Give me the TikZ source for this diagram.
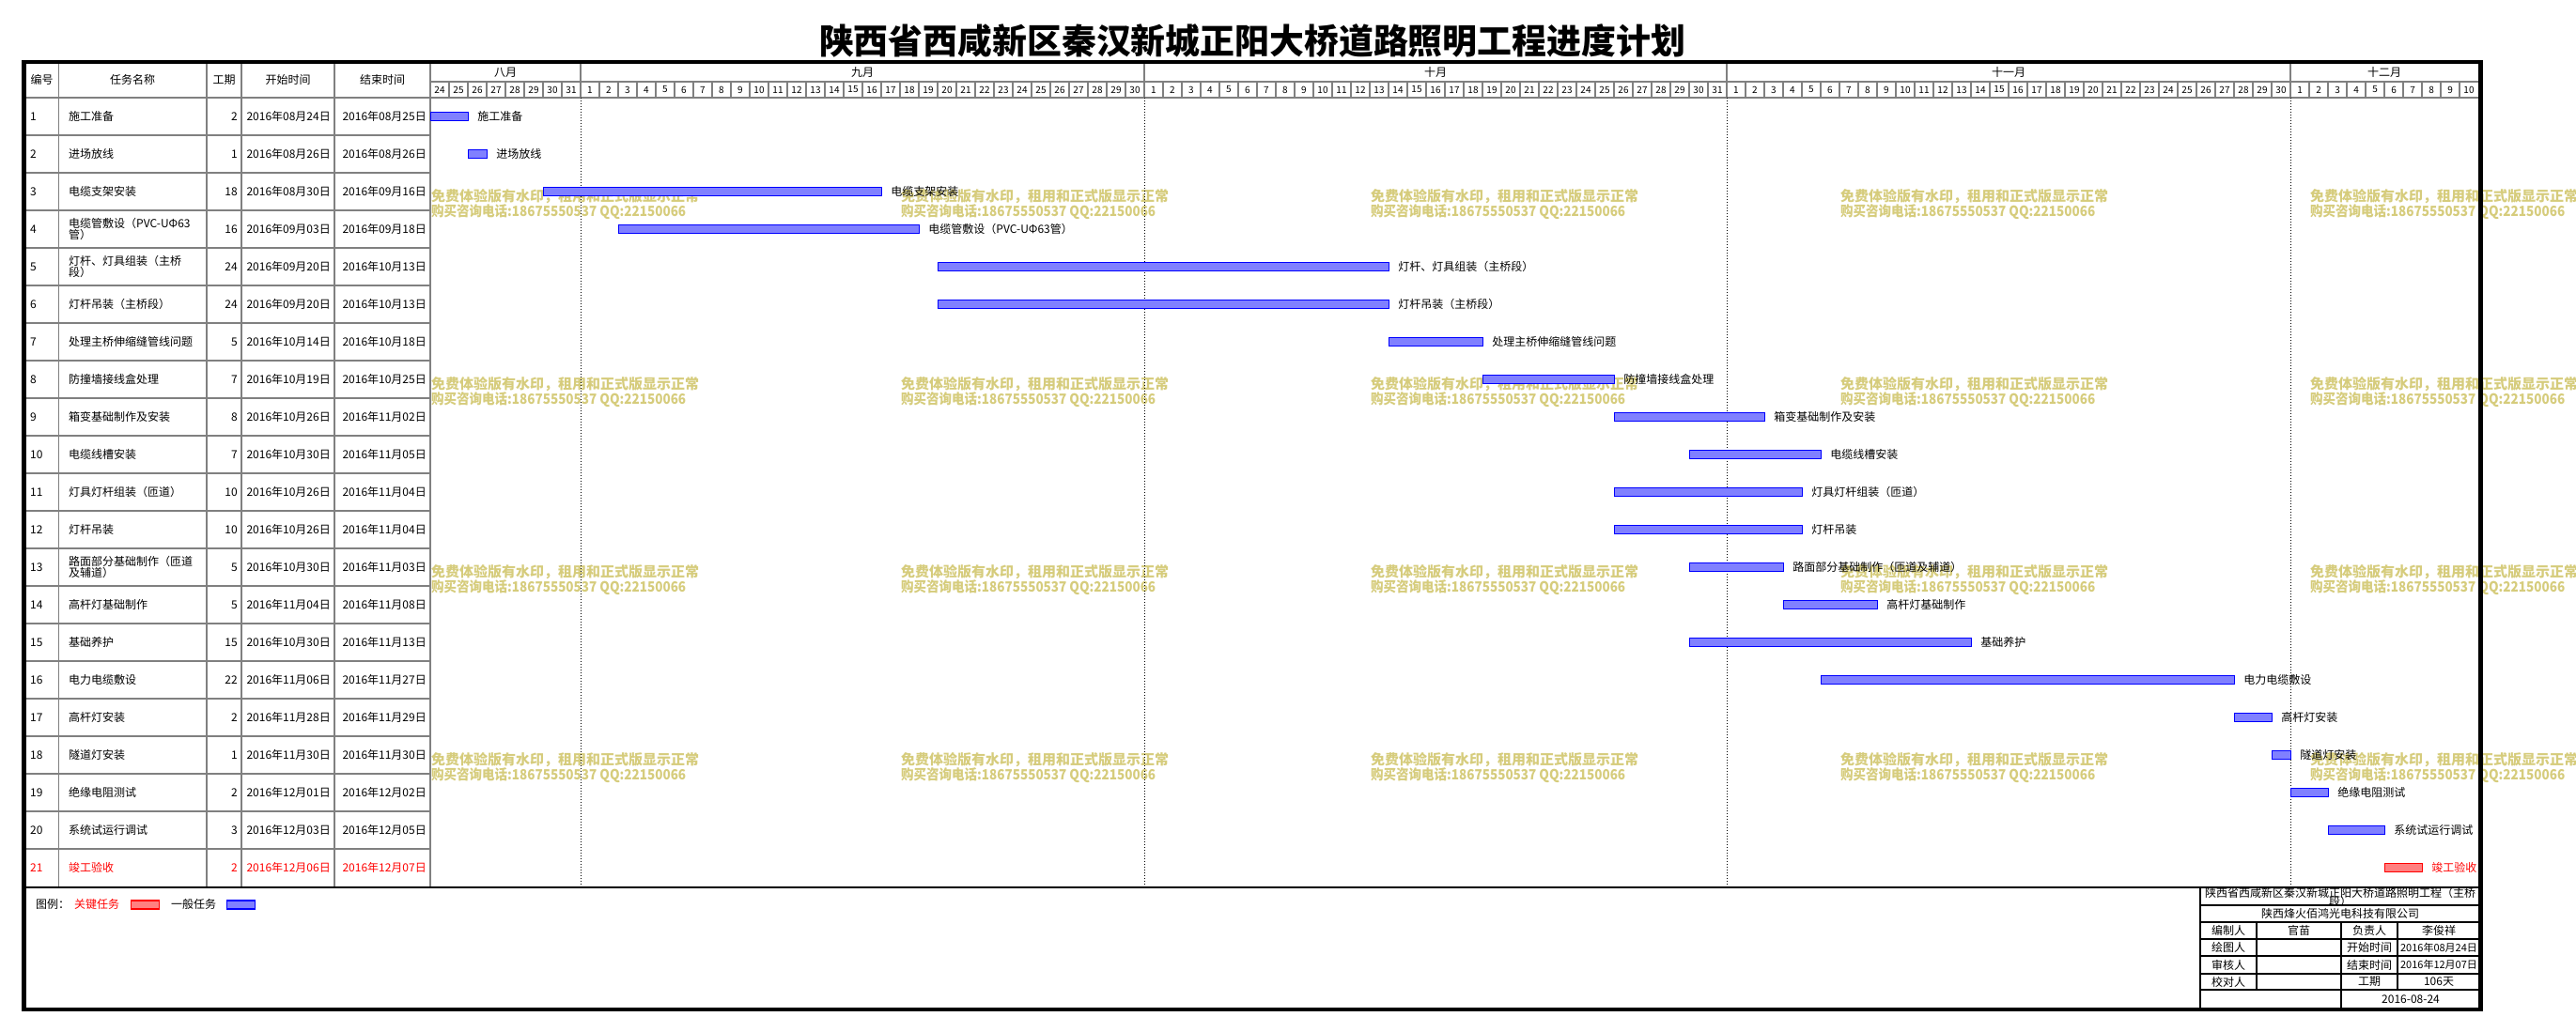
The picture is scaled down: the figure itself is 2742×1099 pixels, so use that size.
\documentclass[tikz,border=0pt]{standalone}
\usepackage{fontspec}
\setmainfont{Noto Sans CJK SC}
\definecolor{wmc}{RGB}{214,204,124}
\definecolor{gridg}{RGB}{128,128,128}
\definecolor{barblue}{RGB}{128,128,255}
\definecolor{barred}{RGB}{255,128,128}
\tikzset{
  gl/.style={draw=gridg, line width=1.2pt},
  bl/.style={draw=black, line width=1.1pt},
  mdot/.style={draw=black, line width=1pt, dash pattern=on 1pt off 2pt},
  txt/.style={inner sep=0pt, font=\fontsize{12}{12.5}\selectfont},
  smalltxt/.style={inner sep=0pt, font=\fontsize{11}{11}\selectfont},
  dayt/.style={inner sep=0pt, font=\fontsize{10}{10}\selectfont},
  wmt/.style={inner sep=0pt, anchor=west, text=wmc, font=\fontsize{15}{15}\selectfont\bfseries},
  gen/.style={text=black},
  key/.style={text=red},
  bargen/.style={draw=blue, fill=barblue, line width=1.2pt, inner sep=0pt, minimum height=9pt},
  barkey/.style={draw=red, fill=barred, line width=1.2pt, inner sep=0pt, minimum height=9pt},
}
\newcommand\tkrow[8]{%
  \pgfmathsetmacro\ry{124+(#1-1)*40}%
  \pgfmathsetmacro\bx{458+(#6)*20}%
  \pgfmathsetmacro\bw{(#3)*20}%
  \node[txt,#8,anchor=west] (no#1) at (32,\ry) {#1};
  \node[txt,#8,anchor=west,align=left] (nm#1) at (73,\ry) {#2};
  \node[txt,#8,anchor=east] (du#1) at (253,\ry) {#3};
  \node[txt,#8,anchor=east] (st#1) at (352,\ry) {#4};
  \node[txt,#8,anchor=east] (en#1) at (454,\ry) {#5};
  \node[bar#8,anchor=west,minimum width=\bw pt] (b#1) at (\bx,\ry) {};
  \node[txt,#8,anchor=west] (lb#1) at ([xshift=9pt]b#1.east) {#7};
}
\begin{document}
\begin{tikzpicture}[x=1pt,y=-1pt]
\useasboundingbox (0,0) rectangle (2742,1099);
\fill[white] (0,0) rectangle (2742,1099);

% watermarks
\foreach \i in {0,...,4}{
  \foreach \j in {0,...,3}{
    \node[wmt] (wa\i\j) at (459+500*\i, 209+200*\j) {免费体验版有水印，租用和正式版显示正常};
    \node[wmt] (wb\i\j) at (459+500*\i, 226+200*\j) {\scalebox{0.9}[1]{购买咨询电话:18675550537 QQ:22150066}};
  }
}

% title
\node[inner sep=0pt] (title) at (1333,44) {\resizebox{922pt}{!}{\fontsize{34}{34}\selectfont\bfseries 陕西省西咸新区秦汉新城正阳大桥道路照明工程进度计划}};

% table grid
\foreach \k in {1,...,20} \draw[gl] (27,104+40*\k) -- (458,104+40*\k);
\draw[gl] (27,104) -- (2640,104);
\foreach \xx in {62.5,220,257,356,458} \draw[gl] (\xx,66) -- (\xx,945);
% timeline header
\draw[gl] (458,87) -- (2640,87);
\foreach \k in {1,...,108} \draw[gl] (458+20*\k,87) -- (458+20*\k,104);
\foreach \xx in {618,1218,1838,2438} {
  \draw[gl] (\xx,66) -- (\xx,104);
  \draw[mdot] (\xx,104) -- (\xx,945);
}

% header texts
\node[txt] (h1) at (44.7,85) {编号};
\node[txt] (h2) at (141.2,85) {任务名称};
\node[txt] (h3) at (238.5,85) {工期};
\node[txt] (h4) at (306.5,85) {开始时间};
\node[txt] (h5) at (407,85) {结束时间};
\node[txt] (mAug) at (538,77) {八月};
\node[txt] (mSep) at (918,77) {九月};
\node[txt] (mOct) at (1528,77) {十月};
\node[txt] (mNov) at (2138,77) {十一月};
\node[txt] (mDec) at (2538,77) {十二月};
\foreach \d [count=\k from 0] in {24,...,31} \node[dayt] (da\d) at (468+20*\k,95.5) {\d};
\foreach \d in {1,...,30} \node[dayt] (ds\d) at (608+20*\d,95.5) {\d};
\foreach \d in {1,...,31} \node[dayt] (do\d) at (1208+20*\d,95.5) {\d};
\foreach \d in {1,...,30} \node[dayt] (dn\d) at (1828+20*\d,95.5) {\d};
\foreach \d in {1,...,10} \node[dayt] (dd\d) at (2428+20*\d,95.5) {\d};

% rows
\tkrow{1}{施工准备}{2}{2016年08月24日}{2016年08月25日}{0}{施工准备}{gen}
\tkrow{2}{进场放线}{1}{2016年08月26日}{2016年08月26日}{2}{进场放线}{gen}
\tkrow{3}{电缆支架安装}{18}{2016年08月30日}{2016年09月16日}{6}{电缆支架安装}{gen}
\tkrow{4}{电缆管敷设（PVC-UΦ63\\管）}{16}{2016年09月03日}{2016年09月18日}{10}{电缆管敷设（PVC-UΦ63管）}{gen}
\tkrow{5}{灯杆、灯具组装（主桥\\段）}{24}{2016年09月20日}{2016年10月13日}{27}{灯杆、灯具组装（主桥段）}{gen}
\tkrow{6}{灯杆吊装（主桥段）}{24}{2016年09月20日}{2016年10月13日}{27}{灯杆吊装（主桥段）}{gen}
\tkrow{7}{处理主桥伸缩缝管线问题}{5}{2016年10月14日}{2016年10月18日}{51}{处理主桥伸缩缝管线问题}{gen}
\tkrow{8}{防撞墙接线盒处理}{7}{2016年10月19日}{2016年10月25日}{56}{防撞墙接线盒处理}{gen}
\tkrow{9}{箱变基础制作及安装}{8}{2016年10月26日}{2016年11月02日}{63}{箱变基础制作及安装}{gen}
\tkrow{10}{电缆线槽安装}{7}{2016年10月30日}{2016年11月05日}{67}{电缆线槽安装}{gen}
\tkrow{11}{灯具灯杆组装（匝道）}{10}{2016年10月26日}{2016年11月04日}{63}{灯具灯杆组装（匝道）}{gen}
\tkrow{12}{灯杆吊装}{10}{2016年10月26日}{2016年11月04日}{63}{灯杆吊装}{gen}
\tkrow{13}{路面部分基础制作（匝道\\及辅道）}{5}{2016年10月30日}{2016年11月03日}{67}{路面部分基础制作（匝道及辅道）}{gen}
\tkrow{14}{高杆灯基础制作}{5}{2016年11月04日}{2016年11月08日}{72}{高杆灯基础制作}{gen}
\tkrow{15}{基础养护}{15}{2016年10月30日}{2016年11月13日}{67}{基础养护}{gen}
\tkrow{16}{电力电缆敷设}{22}{2016年11月06日}{2016年11月27日}{74}{电力电缆敷设}{gen}
\tkrow{17}{高杆灯安装}{2}{2016年11月28日}{2016年11月29日}{96}{高杆灯安装}{gen}
\tkrow{18}{隧道灯安装}{1}{2016年11月30日}{2016年11月30日}{98}{隧道灯安装}{gen}
\tkrow{19}{绝缘电阻测试}{2}{2016年12月01日}{2016年12月02日}{99}{绝缘电阻测试}{gen}
\tkrow{20}{系统试运行调试}{3}{2016年12月03日}{2016年12月05日}{101}{系统试运行调试}{gen}
\tkrow{21}{竣工验收}{2}{2016年12月06日}{2016年12月07日}{104}{竣工验收}{key}

% separator under table
\draw[bl] (27,945) -- (2640,945);

% legend
\node[txt,anchor=west] (lgt) at (38,963) {图例：};
\node[txt,anchor=west,text=red] (lgk) at (79,963) {关键任务};
\node[barkey,anchor=west,minimum width=30pt] (lgkb) at (139,963.5) {};
\node[txt,anchor=west] (lgg) at (182,963) {一般任务};
\node[bargen,anchor=west,minimum width=30pt] (lggb) at (241,963.5) {};

% info table
\draw[bl] (2342,945) -- (2342,1075);
\foreach \yy in {964,982,1000,1018,1037,1054} \draw[bl] (2342,\yy) -- (2640,\yy);
\draw[bl] (2402,982) -- (2402,1054);
\draw[bl] (2492,982) -- (2492,1075);
\draw[bl] (2552,982) -- (2552,1054);
\node[txt] (ia1) at (2491,950.5) {陕西省西咸新区秦汉新城正阳大桥道路照明工程（主桥};
\node[txt] (ia2) at (2491,960) {段）};
\node[txt] (ib) at (2491,973) {陕西烽火佰鸿光电科技有限公司};
\node[txt] (ic1) at (2372,991) {编制人};
\node[txt] (ic2) at (2447,991) {官苗};
\node[txt] (ic3) at (2522,991) {负责人};
\node[txt] (ic4) at (2596,991) {李俊祥};
\node[txt] (id1) at (2372,1009) {绘图人};
\node[txt] (id3) at (2522,1009) {开始时间};
\node[smalltxt] (id4) at (2596,1009) {2016年08月24日};
\node[txt] (ie1) at (2372,1027.5) {审核人};
\node[txt] (ie3) at (2522,1027.5) {结束时间};
\node[smalltxt] (ie4) at (2596,1027.5) {2016年12月07日};
\node[txt] (if1) at (2372,1045.5) {校对人};
\node[txt] (if3) at (2522,1045.5) {工期};
\node[txt] (if4) at (2596,1045.5) {106天};
\node[txt] (ig) at (2566,1064) {2016-08-24};

% outer frame
\draw[black, line width=4.5pt] (25.5,66) rectangle (2640.5,1075);
\end{tikzpicture}
\end{document}
